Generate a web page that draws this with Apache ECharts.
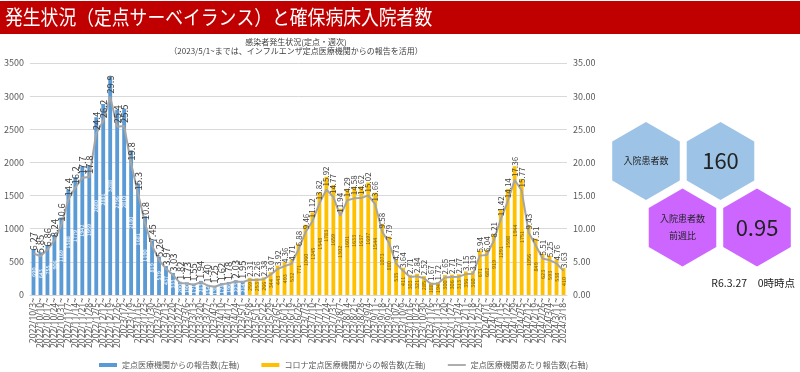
<!DOCTYPE html>
<html><head><meta charset="utf-8">
<script src="https://cdn.jsdelivr.net/npm/echarts@6/dist/echarts.min.js"></script>
<style>html,body{margin:0;padding:0;background:#fff}#c{width:800px;height:372px}</style>
</head><body><div id="c"></div>
<script>
const weeks = ["2022/10/3~","2022/10/10~","2022/10/17~","2022/10/24~","2022/10/31~","2022/11/7~","2022/11/14~","2022/11/21~","2022/11/28~","2022/12/5~","2022/12/12~","2022/12/19~","2022/12/26~","2023/1/2~","2023/1/9~","2023/1/16~","2023/1/23~","2023/1/30~","2023/2/6~","2023/2/13~","2023/2/20~","2023/2/27~","2023/3/6~","2023/3/13~","2023/3/20~","2023/3/27~","2023/4/3~","2023/4/10~","2023/4/17~","2023/4/24~","2023/5/1~","2023/5/8~","2023/5/15~","2023/5/22~","2023/5/29~","2023/6/5~","2023/6/12~","2023/6/19~","2023/6/26~","2023/7/3~","2023/7/10~","2023/7/17~","2023/7/24~","2023/7/31~","2023/8/7~","2023/8/14~","2023/8/21~","2023/8/28~","2023/9/4~","2023/9/11~","2023/9/18~","2023/9/25~","2023/10/2~","2023/10/9~","2023/10/16~","2023/10/23~","2023/10/30~","2023/11/6~","2023/11/13~","2023/11/20~","2023/11/27~","2023/12/4~","2023/12/11~","2023/12/18~","2023/12/25~","2024/1/1~","2024/1/8~","2024/1/15~","2024/1/22~","2024/1/29~","2024/2/5~","2024/2/12~","2024/2/19~","2024/2/26~","2024/3/4~","2024/3/11~","2024/3/18~"];
// influenza sentinel reports (until 2023/5/1)
const fluReports = [690,643,755,906,1169,1588,1779,1942,1959,2680,2881,3288,2796,2810,2180,1681,1190,819,579,437,333,200,190,171,213,154,138,178,196,223,214];
// COVID sentinel reports (from 2023/5/8)
const covidReports = [259,253,266,344,443,493,532,771,1060,1245,1548,1783,1659,1302,1601,1633,1637,1697,1544,1073,880,535,411,303,321,285,188,194,300,306,313,356,360,671,682,919,1291,1598,1944,1751,1056,849,623,593,538,410];
// reports per sentinel facility
const perFacility = [6.27,5.85,6.86,8.24,10.6,14.4,16.2,17.7,17.8,24.4,26.2,29.9,25.4,25.5,19.8,15.3,10.8,7.45,5.26,3.97,3.03,1.82,1.73,1.55,1.94,1.40,1.25,1.62,1.78,2.03,1.95,
  2.31,2.26,2.38,3.07,3.92,4.36,4.71,6.88,9.46,11.12,13.82,15.92,14.77,11.94,14.29,14.58,14.62,15.02,13.66,9.58,7.79,4.73,3.64,2.71,2.84,2.52,1.67,1.72,2.65,2.71,2.77,3.15,3.19,5.94,6.04,8.21,11.42,14.14,17.36,15.77,9.43,7.51,5.51,5.25,4.76,3.63];
const leftTicks = [0,500,1000,1500,2000,2500,3000,3500];
const rightTicks = [0,5,10,15,20,25,30,35];
const inpatients = "160";
const weekRatio = "0.95";
const asOf = "R6.3.27\u30000時時点";

const nFlu = fluReports.length;
const fluData = weeks.map((w,i)=> i < nFlu ? fluReports[i] : null);
const covData = weeks.map((w,i)=> i >= nFlu ? covidReports[i-nFlu] : null);
const lineData = perFacility.map((v,i)=>({value:v, label:{fontSize: i<nFlu?9.5:8}}));

const FONT = '"Noto Sans CJK JP","Noto Sans",sans-serif';
function hex(cx,cy,r,color){
  const pts=[];
  for(let k=0;k<6;k++){const a=Math.PI/180*(60*k-90);pts.push([cx+r*Math.cos(a),cy+r*Math.sin(a)]);}
  return {type:'polygon',shape:{points:pts},style:{fill:color},z:1};
}
const chart = echarts.init(document.getElementById('c'),null,{renderer:'canvas'});
chart.setOption({
  animation:false,
  textStyle:{fontFamily:FONT},
  grid:{left:30,right:233,top:63,bottom:77},
  legend:{
    left:94, top:356, itemWidth:18, itemHeight:4, itemGap:22,
    textStyle:{fontSize:8,color:'#595959',fontFamily:FONT},
    data:[{name:'定点医療機関からの報告数(左軸)',icon:'rect'},{name:'コロナ定点医療機関からの報告数(左軸)',icon:'rect'},{name:'定点医療機関あたり報告数(右軸)',icon:'path://M0,0L20,0L20,2L0,2Z'}]
  },
  xAxis:{type:'category',data:weeks,
    axisLine:{lineStyle:{color:'#D9D9D9'}},axisTick:{show:false},
    axisLabel:{interval:0,rotate:90,fontSize:8.5,color:'#595959',margin:3,fontFamily:'"Noto Sans",sans-serif'}},
  yAxis:[
    {type:'value',min:leftTicks[0],max:leftTicks[leftTicks.length-1],interval:500,
     axisLabel:{fontSize:9,color:'#595959',margin:6,formatter:v=>String(v)},splitLine:{lineStyle:{color:'#D9D9D9'}},axisLine:{show:false}},
    {type:'value',min:rightTicks[0],max:rightTicks[rightTicks.length-1],interval:5,
     axisLabel:{fontSize:9,color:'#595959',margin:6,formatter:v=>v.toFixed(2)},splitLine:{show:false},axisLine:{show:false}}
  ],
  series:[
    {name:'定点医療機関からの報告数(左軸)',type:'bar',stack:'r',data:fluData,barWidth:'55%',
     itemStyle:{color:'#5B9BD5'},
     label:{show:true,position:'inside',rotate:90,fontSize:5.5,color:'#ffffff'}},
    {name:'コロナ定点医療機関からの報告数(左軸)',type:'bar',stack:'r',data:covData,barWidth:'55%',
     itemStyle:{color:'#FFC000'},
     label:{show:true,position:'inside',rotate:90,fontSize:5.5,color:'#7F6000'}},
    {name:'定点医療機関あたり報告数(右軸)',type:'line',yAxisIndex:1,data:lineData,
     symbol:'circle',symbolSize:0.1,showSymbol:true,
     lineStyle:{color:'#A5A5A5',width:2},itemStyle:{color:'#A5A5A5'},
     label:{show:true,position:'top',rotate:90,align:'left',verticalAlign:'middle',distance:3,color:'#404040',
       formatter:p=> p.dataIndex<nFlu ? p.value.toPrecision(3) : p.value.toFixed(2)},
     z:5}
  ],
  graphic:[
    {type:'rect',shape:{x:0,y:1,width:800,height:33},style:{fill:'#C00000'},z:1},
    {type:'text',x:5,y:17,scaleX:0.89,style:{text:'発生状況（定点サーベイランス）と確保病床入院者数',fill:'#fff',font:'20px '+FONT,textVerticalAlign:'middle'},z:2},
    {type:'text',x:296,y:42,style:{text:'感染者発生状況(定点・週次)',fill:'#404040',font:'8px '+FONT,textAlign:'center',textVerticalAlign:'middle'}},
    {type:'text',x:296,y:51,style:{text:'（2023/5/1~までは、インフルエンザ定点医療機関からの報告を活用）',fill:'#404040',font:'8px '+FONT,textAlign:'center',textVerticalAlign:'middle'}},
    hex(646,161,39,'#9DC3E6'),
    hex(720.5,161,39,'#9DC3E6'),
    hex(682.5,227.5,39,'#CC66FF'),
    hex(757,227.5,39,'#CC66FF'),
    {type:'text',x:646,y:161,style:{text:'入院患者数',fill:'#222',font:'9px '+FONT,textAlign:'center',textVerticalAlign:'middle'},z:3},
    {type:'text',x:720.5,y:161,style:{text:inpatients,fill:'#222',font:'22px '+FONT,textAlign:'center',textVerticalAlign:'middle'},z:3},
    {type:'text',x:682.5,y:227.5,style:{text:'入院患者数\n前週比',fill:'#222',font:'9px '+FONT,textAlign:'center',textVerticalAlign:'middle',lineHeight:17},z:3},
    {type:'text',x:757,y:227.5,style:{text:weekRatio,fill:'#222',font:'22px '+FONT,textAlign:'center',textVerticalAlign:'middle'},z:3},
    {type:'text',x:795,y:283,style:{text:asOf,fill:'#222',font:'10.5px '+FONT,textAlign:'right',textVerticalAlign:'middle'},z:3}
  ]
});
</script></body></html>
